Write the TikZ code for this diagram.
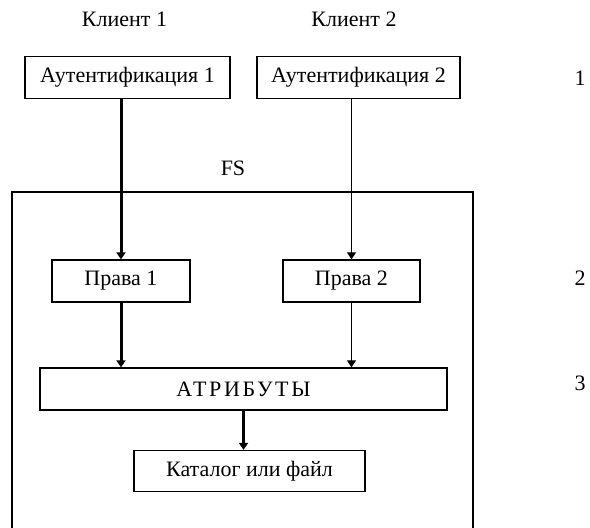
\documentclass[tikz,border=0pt]{standalone}
\usepackage{fontspec}
\setmainfont{Liberation Serif}
\usetikzlibrary{arrows.meta}
\begin{document}
\begin{tikzpicture}[x=1pt,y=-1pt,
  box/.style={draw,line width=1.3pt,inner sep=0pt,font=\fontsize{22}{24}\selectfont},
  lbl/.style={inner sep=0pt,font=\fontsize{22}{24}\selectfont},
  thick arrow/.style={line width=3pt,-{Triangle[length=7pt,width=9pt]}},
  thin arrow/.style={line width=1.2pt,-{Triangle[length=7pt,width=9pt]}}]
\useasboundingbox (0,0) rectangle (590,528);
\node[lbl] (k1) at (124.5,19) {Клиент 1};
\node[lbl] (k2) at (354,19) {Клиент 2};
\node[box,minimum width=205pt,minimum height=42pt] (a1) at (127.5,77.5) {Аутентификация 1};
\node[box,minimum width=203pt,minimum height=42pt] (a2) at (358.5,77.5) {Аутентификация 2};
\node[lbl] (l1) at (580,78) {1};
\node[lbl] (fs) at (233,168) {FS};
\coordinate (fsbl) at (12,535);
\coordinate (fsbr) at (473,535);
\draw[line width=1.3pt] (fsbl) -- (12,192) -- (473,192) -- (fsbr);
\node[box,minimum width=138pt,minimum height=42pt] (p1) at (121,281) {Права 1};
\node[box,minimum width=137pt,minimum height=42pt] (p2) at (351.5,281) {Права 2};
\node[lbl] (l2) at (580,278) {2};
\node[box,minimum width=407pt,minimum height=42pt] (attr) at (243.5,389) {\addfontfeature{LetterSpace=12}АТРИБУТЫ};
\node[lbl] (l3) at (580,383) {3};
\node[box,minimum width=231pt,minimum height=41pt] (kat) at (249.5,471) {Каталог или файл};
\draw[thick arrow] (a1.south -| p1.north) -- (p1.north);
\draw[thin arrow] (a2.south -| p2.north) -- (p2.north);
\draw[thick arrow] (p1.south) -- (p1.south |- attr.north);
\draw[thin arrow] (p2.south) -- (p2.south |- attr.north);
\draw[thick arrow] (attr.south) -- (attr.south |- kat.north);
\end{tikzpicture}
\end{document}
